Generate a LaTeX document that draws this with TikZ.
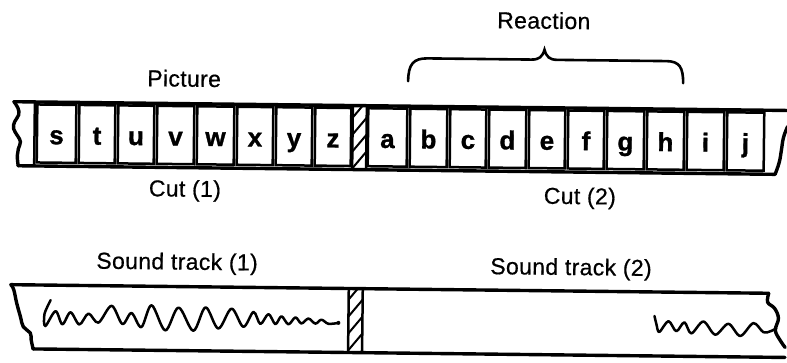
\documentclass[tikz,border=0pt]{standalone}
\usepackage{fontspec}
\setmainfont{Liberation Sans}
\newfontfamily\lblfont[LetterSpace=1.5,FakeBold=0.6]{Liberation Sans}
\newfontfamily\frmfont[FakeBold=1.2]{Liberation Sans Bold}
\begin{document}
\begin{tikzpicture}[x=1pt,y=-1pt,
  edgeline/.style={line width=3.4pt,line join=round,line cap=round},
  framebox/.style={line width=2.5pt},
  splicebox/.style={line width=2.5pt},
  hatchline/.style={line width=2pt},
  squiggle/.style={line width=2.5pt,line join=round,line cap=round},
  lbl/.style={font=\lblfont\fontsize{23}{27}\selectfont,anchor=base,inner sep=0pt,transform shape},
  frm/.style={font=\frmfont\fontsize{26}{29}\selectfont,anchor=base,inner sep=0pt,transform shape},
  bracepath/.style={line width=2.6pt,line cap=round}]
\useasboundingbox (0,0) rectangle (787,362);
\begin{scope}[rotate around={-0.65:(393,181)}]
  % ---------- picture strip ----------
  \draw[edgeline] (13,106) -- (787,106);
  \draw[edgeline] (18,170) -- (775,170);
  \draw[edgeline] plot[smooth,tension=0.7] coordinates
    {(13,106) (17,112) (18,119) (14,126) (13,133) (17,140) (20,146) (18,153) (17,160) (18,170)};
  \draw[edgeline] plot[smooth,tension=0.7] coordinates
    {(787,122) (783,133) (781,146) (779,158) (775,170)};
  \draw[framebox] (34,106) -- (34,170);
  \foreach \l/\r/\t in {35/77/s,77/116/t,116/155/u,155/195/v,195/235/w,235/274/x,
      274/313/y,313/352/z,366/408/a,408/448/b,448/487/c,487/527/d,527/566/e,
      566/605/f,605/645/g,645/685/h,685/725/i,725/765/j}{
    \draw[framebox] (\l+1.5,108.5) rectangle (\r-1.5,166.5);
    \node[frm] (f-\t) at ({(\l+\r)/2},148) {\t};
  }
  % splice between the two cuts
  \begin{scope}
    \clip (352,106) rectangle (366,170);
    \foreach \y in {118,135,152,169,186}
      \draw[hatchline] (352,\y) -- (366,\y-17);
  \end{scope}
  \draw[splicebox] (352,106) rectangle (366,170);

  % ---------- labels ----------
  \node[lbl] (picture) at (183,89) {Picture};
  \node[lbl] (reaction) at (542,27) {Reaction};
  \node[lbl] (cut1) at (185,199) {Cut (1)};
  \node[lbl] (cut2) at (580,202) {Cut (2)};
  \node[lbl] (snd1) at (178,272) {Sound track (1)};
  \node[lbl] (snd2) at (572,273) {Sound track (2)};

  % brace over the reaction frames
  \draw[bracepath] (407,81) .. controls (407,64) and (412,58) .. (426,58)
    -- (530,58) .. controls (538,58) and (541,55) .. (543,48)
    .. controls (545,55) and (548,58) .. (556,58)
    -- (665,58) .. controls (678,58) and (682,64) .. (682,80);

  % ---------- sound track ----------
  \draw[edgeline] (12,289) -- (770,289);
  \draw[edgeline] (35,353) -- (787,353);
  \draw[edgeline] plot[smooth,tension=0.7] coordinates
    {(12,289) (15,294) (18,307) (22,321) (25,331) (32,337) (33,344) (35,353)};
  \draw[edgeline] plot[smooth,tension=0.6] coordinates
    {(770,289) (769,298) (776,304) (780,314) (777,326) (782,336) (787,343)};
  \begin{scope}
    \clip (350,289) rectangle (364,353);
    \foreach \y in {300,317,334,351,368}
      \draw[hatchline] (350,\y) -- (364,\y-17);
  \end{scope}
  \draw[splicebox] (350,289) rectangle (364,353);

  % recorded waveform of sound track (1)
  \draw[squiggle] plot[smooth,tension=0.55] coordinates
    {(52,304) (46,318) (47,330) (57,315) (64,328) (72,316) (81,328) (90,317)
     (100,326) (113,309) (124,327) (133,316) (143,330) (153,308) (167,333)
     (180,310) (195,333) (207,309.5) (220,330.5) (233,310.5) (245,328.5)
     (255,313.5) (262,325.5) (270,315.5) (277,325.5) (283,317.5) (290,325.5)
     (297,318.5) (303,324.5) (310,319.5) (317,324.5) (323,320.5) (330,324.5)
     (340,323.5)};
  \fill (340,323.5) circle (2);
  % recorded waveform of sound track (2)
  \draw[squiggle] plot[smooth,tension=0.55] coordinates
    {(656,313) (658,321) (661,329) (670,318) (678,328) (686,319) (693,330)
     (705,318) (717,331) (730,320) (742,332) (755,319) (765,328) (772,327)
     (778,324)};
\end{scope}
\end{tikzpicture}
\end{document}
